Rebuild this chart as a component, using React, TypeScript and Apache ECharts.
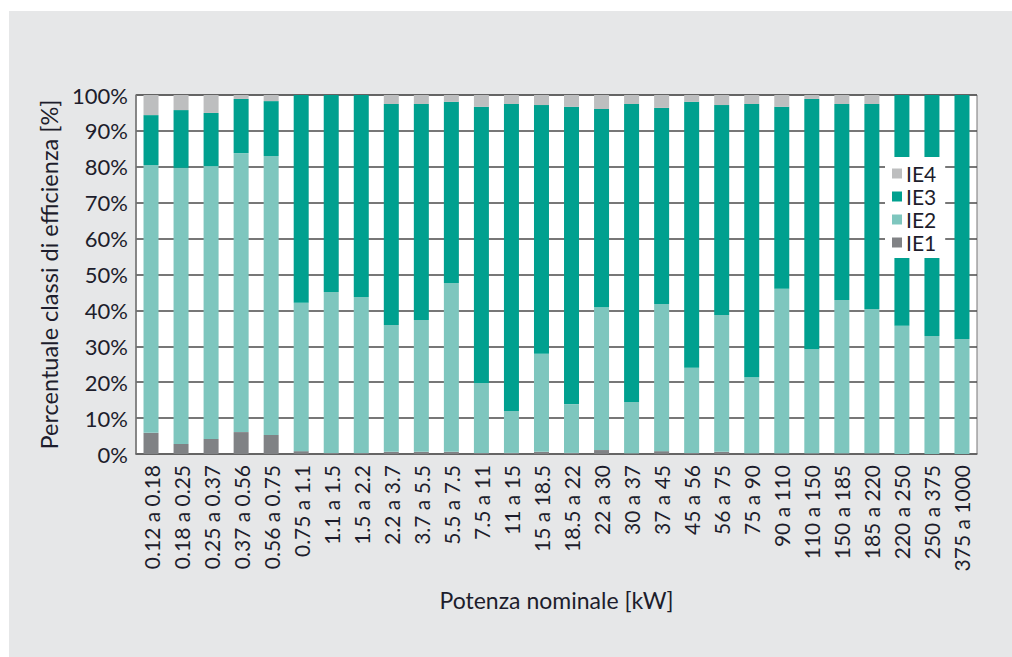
import React, { useEffect, useRef } from "react";
import * as echarts from "echarts";

const categories = [
  "0.12 a 0.18", "0.18 a 0.25", "0.25 a 0.37", "0.37 a 0.56", "0.56 a 0.75",
  "0.75 a 1.1", "1.1 a 1.5", "1.5 a 2.2", "2.2 a 3.7", "3.7 a 5.5",
  "5.5 a 7.5", "7.5 a 11", "11 a 15", "15 a 18.5", "18.5 a 22",
  "22 a 30", "30 a 37", "37 a 45", "45 a 56", "56 a 75",
  "75 a 90", "90 a 110", "110 a 150", "150 a 185", "185 a 220",
  "220 a 250", "250 a 375", "375 a 1000",
];

const IE1 = [5.9, 2.8, 4.2, 6.1, 5.3, 0.8, 0.3, 0.3, 0.6, 0.6, 0.6, 0.3, 0.3, 0.6, 0.3, 1.1, 0.2, 0.8, 0.3, 0.6, 0.2, 0.2, 0.2, 0.2, 0.2, 0, 0, 0];
const IE2 = [74.6, 76.9, 76.0, 77.7, 77.7, 41.3, 44.8, 43.4, 35.3, 36.7, 47.0, 19.5, 11.7, 27.3, 13.6, 39.8, 14.3, 41.0, 23.7, 38.1, 21.2, 45.8, 29.0, 42.7, 40.2, 35.7, 32.9, 32.0];
const IE3 = [13.9, 16.1, 14.8, 15.1, 15.3, 57.9, 54.9, 56.3, 61.6, 60.2, 50.5, 76.9, 85.5, 69.3, 82.8, 55.2, 83.0, 54.6, 74.1, 58.5, 76.1, 50.7, 69.7, 54.6, 57.1, 64.3, 67.1, 68.0];
const IE4 = [5.6, 4.2, 5.0, 1.1, 1.7, 0, 0, 0, 2.5, 2.5, 1.9, 3.3, 2.5, 2.8, 3.3, 3.9, 2.5, 3.6, 1.9, 2.8, 2.5, 3.3, 1.1, 2.5, 2.5, 0, 0, 0];

const yTicks = [0, 10, 20, 30, 40, 50, 60, 70, 80, 90, 100];

const FONT = "Lato, 'Noto Sans', sans-serif";
const TEXT = "#1d1d2c";

export default function App() {
  const ref = useRef<HTMLDivElement>(null);
  useEffect(() => {
    document.body.style.margin = "0";
    if (!ref.current) return;
    const chart = echarts.init(ref.current, undefined, { renderer: "svg" });
    const mk = (name: string, data: number[], color: string) => ({
      name,
      type: "bar",
      stack: "tot",
      data,
      barWidth: 15,
      itemStyle: { color },
      emphasis: { disabled: true },
    });
    chart.setOption({
      animation: false,
      backgroundColor: "#ffffff",
      textStyle: { fontFamily: FONT },
      graphic: [
        {
          type: "rect",
          z: -10,
          silent: true,
          shape: { x: 9, y: 11, width: 1003, height: 646 },
          style: { fill: "#e6e7e8" },
        },
      ],
      grid: {
        left: 136,
        right: 35,
        top: 95,
        bottom: 203,
        show: true,
        backgroundColor: "#ffffff",
        borderColor: "#777777",
        borderWidth: 1,
      },
      legend: {
        orient: "vertical",
        left: 885,
        top: 157,
        data: ["IE4", "IE3", "IE2", "IE1"],
        icon: "rect",
        itemWidth: 10,
        itemHeight: 10,
        itemGap: 2,
        padding: [6, 9, 5, 7],
        backgroundColor: "#ffffff",
        textStyle: { fontFamily: FONT, fontSize: 21, color: TEXT, padding: [0, 0, 0, -1] },
      },
      xAxis: {
        type: "category",
        data: categories,
        axisTick: { show: false },
        axisLine: { show: true, lineStyle: { color: "#666666", width: 1.5 } },
        axisLabel: {
          rotate: 90,
          interval: 0,
          margin: 11,
          fontFamily: FONT,
          fontSize: 21,
          color: TEXT,
        },
        name: "Potenza nominale [kW]",
        nameLocation: "middle",
        nameGap: 134,
        nameTextStyle: { fontFamily: FONT, fontSize: 23, color: TEXT },
      },
      yAxis: {
        type: "value",
        min: yTicks[0],
        max: yTicks[yTicks.length - 1],
        interval: 10,
        axisLine: { show: true, lineStyle: { color: "#777777", width: 1.5 } },
        axisTick: { show: false },
        splitLine: { show: true, lineStyle: { color: "#4a4a4a", width: 1.5 } },
        axisLabel: {
          formatter: "{value}%",
          margin: 8,
          fontFamily: FONT,
          fontSize: 22,
          color: TEXT,
        },
        name: "Percentuale classi di efficienza [%]",
        nameLocation: "middle",
        nameGap: 72,
        nameTextStyle: { fontFamily: FONT, fontSize: 23.5, color: TEXT },
      },
      series: [
        mk("IE1", IE1, "#808285"),
        mk("IE2", IE2, "#7ec6be"),
        mk("IE3", IE3, "#00a08f"),
        mk("IE4", IE4, "#bdbebf"),
      ],
    });
    return () => chart.dispose();
  }, []);
  return <div ref={ref} style={{ width: 1012, height: 657 }} />;
}
